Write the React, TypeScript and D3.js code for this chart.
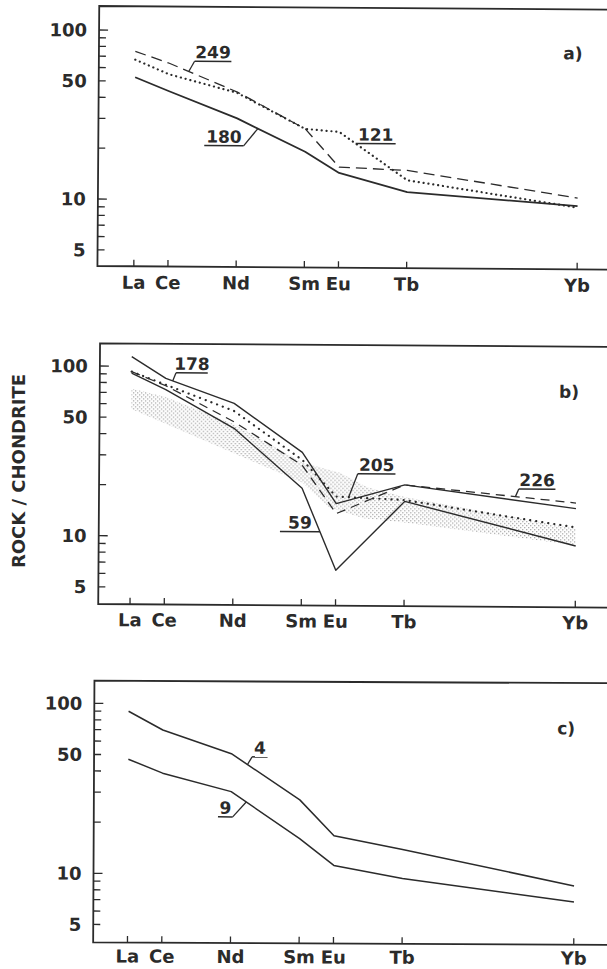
import React from "react";
import * as d3 from "d3";

// ---------- data ----------
const elements = ["La", "Ce", "Nd", "Sm", "Eu", "Tb", "Yb"];
const elementIndex = [0, 1, 3, 5, 6, 8, 13];

const yTickValues = [5, 6, 7, 8, 9, 10, 20, 30, 40, 50, 60, 70, 80, 90, 100];
const yTickLabels = [5, 10, 50, 100];

// panel a
const a180 = [52.7, 43.7, 30.4, 19.4, 14.6, 11.3, 9.5];
const a249 = [75, 64, 43.5, 26.5, 15.8, 15.2, 10.6];
const a121 = [67, 55, 43, 26.5, 25.5, 13.3, 9.3];

// panel b
const b178 = [114, 85, 61, 31.6, 15.8, 20.5, 15.1];
const b226 = [93, 77, 47.5, 26.5, 13.8, 20.5, 16.3];
const b205 = [93, 78, 55, 28.5, 17.4, 16.7, 11.7];
const b59 = [91, 73, 43.5, 19.4, 6.4, 16.4, 9.1];
const bandUpperIdx = [0, 1, 3, 5, 6.1, 6.9, 8, 13];
const bandUpperVal = [74, 66, 46, 27.5, 24, 19.8, 17.4, 11.5];
const bandLowerIdx = [0, 3, 5, 5.8, 6.8, 8, 13];
const bandLowerVal = [56, 31, 21, 15, 13, 12.3, 9.2];

// panel c
const c4 = [90, 70, 51, 27.4, 16.9, 14.1, 8.7];
const c9 = [47, 39, 30.5, 16.2, 11.3, 9.5, 7.0];

// ---------- layout ----------
const INK = "#2b2b2b";

type Style = { dash?: string; width: number; cap?: string };
type Ann = { text: string; values: number[]; idx: number; ox: number; oy: number; len: number; side: "left" | "right" };

const panels = [
  {
    id: "a", axisX: 97.9, top: 6, bottom: 266, y100: 30, y10: 199, xLa: 134.3, unit: 34.1, rot: 0.4, labelGap: 22.5,
    label: "a)", labelX: 572, labelY: 50,
    series: [
      { values: a180, style: { width: 1.8 } as Style },
      { values: a249, style: { width: 1.3, dash: "11,6" } as Style },
      { values: a121, style: { width: 2.2, dash: "0.1,4.8", cap: "round" } as Style },
    ],
    band: false,
    anns: [
      { text: "249", values: a249, idx: 1.57, ox: 5.8, oy: -10.3, len: 36.8, side: "right" },
      { text: "180", values: a180, idx: 3.61, ox: -14.2, oy: 17.4, len: 39.3, side: "left" },
      { text: "121", values: a121, idx: 6.48, ox: 0, oy: 0, len: 40, side: "right" },
    ] as Ann[],
  },
  {
    id: "b", axisX: 98.7, top: 343.3, bottom: 604, y100: 366, y10: 535.7, xLa: 130.5, unit: 34.25, rot: 0.4, labelGap: 22,
    label: "b)", labelX: 568, labelY: 388.4,
    series: [
      { values: b178, style: { width: 1.4 } as Style },
      { values: b226, style: { width: 1.3, dash: "9,6" } as Style },
      { values: b205, style: { width: 2.2, dash: "0.1,6", cap: "round" } as Style },
      { values: b59, style: { width: 1.4 } as Style },
    ],
    band: true,
    anns: [
      { text: "178", values: b178, idx: 1.2, ox: 3.3, oy: -8.2, len: 31.7, side: "right" },
      { text: "205", values: b205, idx: 6.36, ox: 9, oy: -23.4, len: 37.7, side: "right" },
      { text: "226", values: b226, idx: 11.23, ox: 3.3, oy: -7.6, len: 36.7, side: "right" },
      { text: "59", values: b59, idx: 5.53, ox: 0, oy: 0, len: 40, side: "left" },
    ] as Ann[],
  },
  {
    id: "c", axisX: 93.5, top: 680.7, bottom: 942.3, y100: 703.3, y10: 873.3, xLa: 127.8, unit: 34.33, rot: 0.28, labelGap: 20,
    label: "c)", labelX: 565.5, labelY: 726,
    series: [
      { values: c4, style: { width: 1.5 } as Style },
      { values: c9, style: { width: 1.5 } as Style },
    ],
    band: false,
    anns: [
      { text: "4", values: c4, idx: 3.47, ox: 4.6, oy: -7.7, len: 15.5, side: "right" },
      { text: "9", values: c9, idx: 3.44, ox: -13.5, oy: 15, len: 14.7, side: "left" },
    ] as Ann[],
  },
];

function interpLog(values: number[], idx: number) {
  for (let i = 0; i < elementIndex.length - 1; i++) {
    const i0 = elementIndex[i], i1 = elementIndex[i + 1];
    if (idx >= i0 && idx <= i1) {
      const t = (idx - i0) / (i1 - i0);
      const l = Math.log10(values[i]) * (1 - t) + Math.log10(values[i + 1]) * t;
      return Math.pow(10, l);
    }
  }
  return values[values.length - 1];
}

function Panel({ cfg }: { cfg: (typeof panels)[number] }) {
  const xs = d3.scaleLinear().domain([0, 13]).range([cfg.xLa, cfg.xLa + 13 * cfg.unit]);
  const ys = d3.scaleLog().domain([10, 100]).range([cfg.y10, cfg.y100]);
  const line = d3.line<[number, number]>().x((d) => xs(d[0])).y((d) => ys(d[1]));

  let bandPath = "";
  if (cfg.band) {
    const up = bandUpperIdx.map((v, i) => [xs(v), ys(bandUpperVal[i])]);
    const lo = bandLowerIdx.map((v, i) => [xs(v), ys(bandLowerVal[i])]).reverse();
    bandPath = "M" + [...up, ...lo].map((p) => p.join(",")).join("L") + "Z";
  }

  return (
    <g transform={`rotate(${cfg.rot}, ${cfg.axisX}, ${cfg.y10})`}>
      <path
        d={`M660,${cfg.top}H${cfg.axisX}V${cfg.bottom}H660`}
        fill="none"
        stroke={INK}
        strokeWidth={1.8}
      />
      {yTickValues.map((v) => {
        const major = v === 10 || v === 100;
        return (
          <line
            key={v}
            x1={cfg.axisX}
            x2={cfg.axisX + (major ? 9 : 7)}
            y1={ys(v)}
            y2={ys(v)}
            stroke={INK}
            strokeWidth={1.3}
          />
        );
      })}
      {yTickLabels.map((v) => (
        <text key={v} x={cfg.axisX - 12} y={ys(v)} dy="0.36em" textAnchor="end" fontSize={18} fill={INK}>
          {v}
        </text>
      ))}
      {elements.map((e, i) => (
        <g key={e}>
          <line
            x1={xs(elementIndex[i])}
            x2={xs(elementIndex[i])}
            y1={cfg.bottom}
            y2={cfg.bottom - 6.5}
            stroke={INK}
            strokeWidth={1.3}
          />
          <text x={xs(elementIndex[i])} y={cfg.bottom + cfg.labelGap} textAnchor="middle" fontSize={18} fill={INK}>
            {e}
          </text>
        </g>
      ))}
      {cfg.band && <path d={bandPath} fill="url(#stipple)" stroke="none" />}
      {cfg.series.map((s, k) => (
        <path
          key={k}
          d={line(elementIndex.map((ix, i) => [ix, s.values[i]] as [number, number])) || ""}
          fill="none"
          stroke={INK}
          strokeWidth={s.style.width}
          strokeDasharray={s.style.dash}
          strokeLinecap={(s.style.cap as any) || "butt"}
          strokeLinejoin="round"
        />
      ))}
      {cfg.anns.map((a) => {
        const tx = xs(a.idx);
        const ty = ys(interpLog(a.values, a.idx));
        const ex = tx + a.ox;
        const ey = ty + a.oy;
        const u1 = a.side === "right" ? ex : ex - a.len;
        const u2 = a.side === "right" ? ex + a.len : ex;
        return (
          <g key={a.text}>
            <line x1={tx} y1={ty} x2={ex} y2={ey} stroke={INK} strokeWidth={1.3} />
            <line x1={u1} y1={ey} x2={u2} y2={ey} stroke={INK} strokeWidth={1.5} />
            <text x={(u1 + u2) / 2} y={ey - 3} textAnchor="middle" fontSize={17} fill={INK}>
              {a.text}
            </text>
          </g>
        );
      })}
      <text x={cfg.labelX} y={cfg.labelY} dy="0.36em" textAnchor="middle" fontSize={17} fill={INK}>
        {cfg.label}
      </text>
    </g>
  );
}

export default function App() {
  return (
    <svg
      width={607}
      height={969}
      style={{ position: "absolute", left: 0, top: 0, background: "#fff" }}
      fontFamily="'DejaVu Sans', sans-serif"
      fontWeight="bold"
    >
      <defs>
        <pattern id="stipple" width={4} height={4} patternUnits="userSpaceOnUse">
          <rect x={0} y={0} width={1.3} height={1.3} fill="#a8a8a8" />
          <rect x={2} y={2} width={1.3} height={1.3} fill="#a8a8a8" />
        </pattern>
      </defs>
      <rect width={607} height={969} fill="#fff" />
      {panels.map((p) => (
        <Panel key={p.id} cfg={p} />
      ))}
      <text transform="translate(24.8,471) rotate(-90)" textAnchor="middle" fontSize={18} fill={INK}>
        ROCK / CHONDRITE
      </text>
    </svg>
  );
}
